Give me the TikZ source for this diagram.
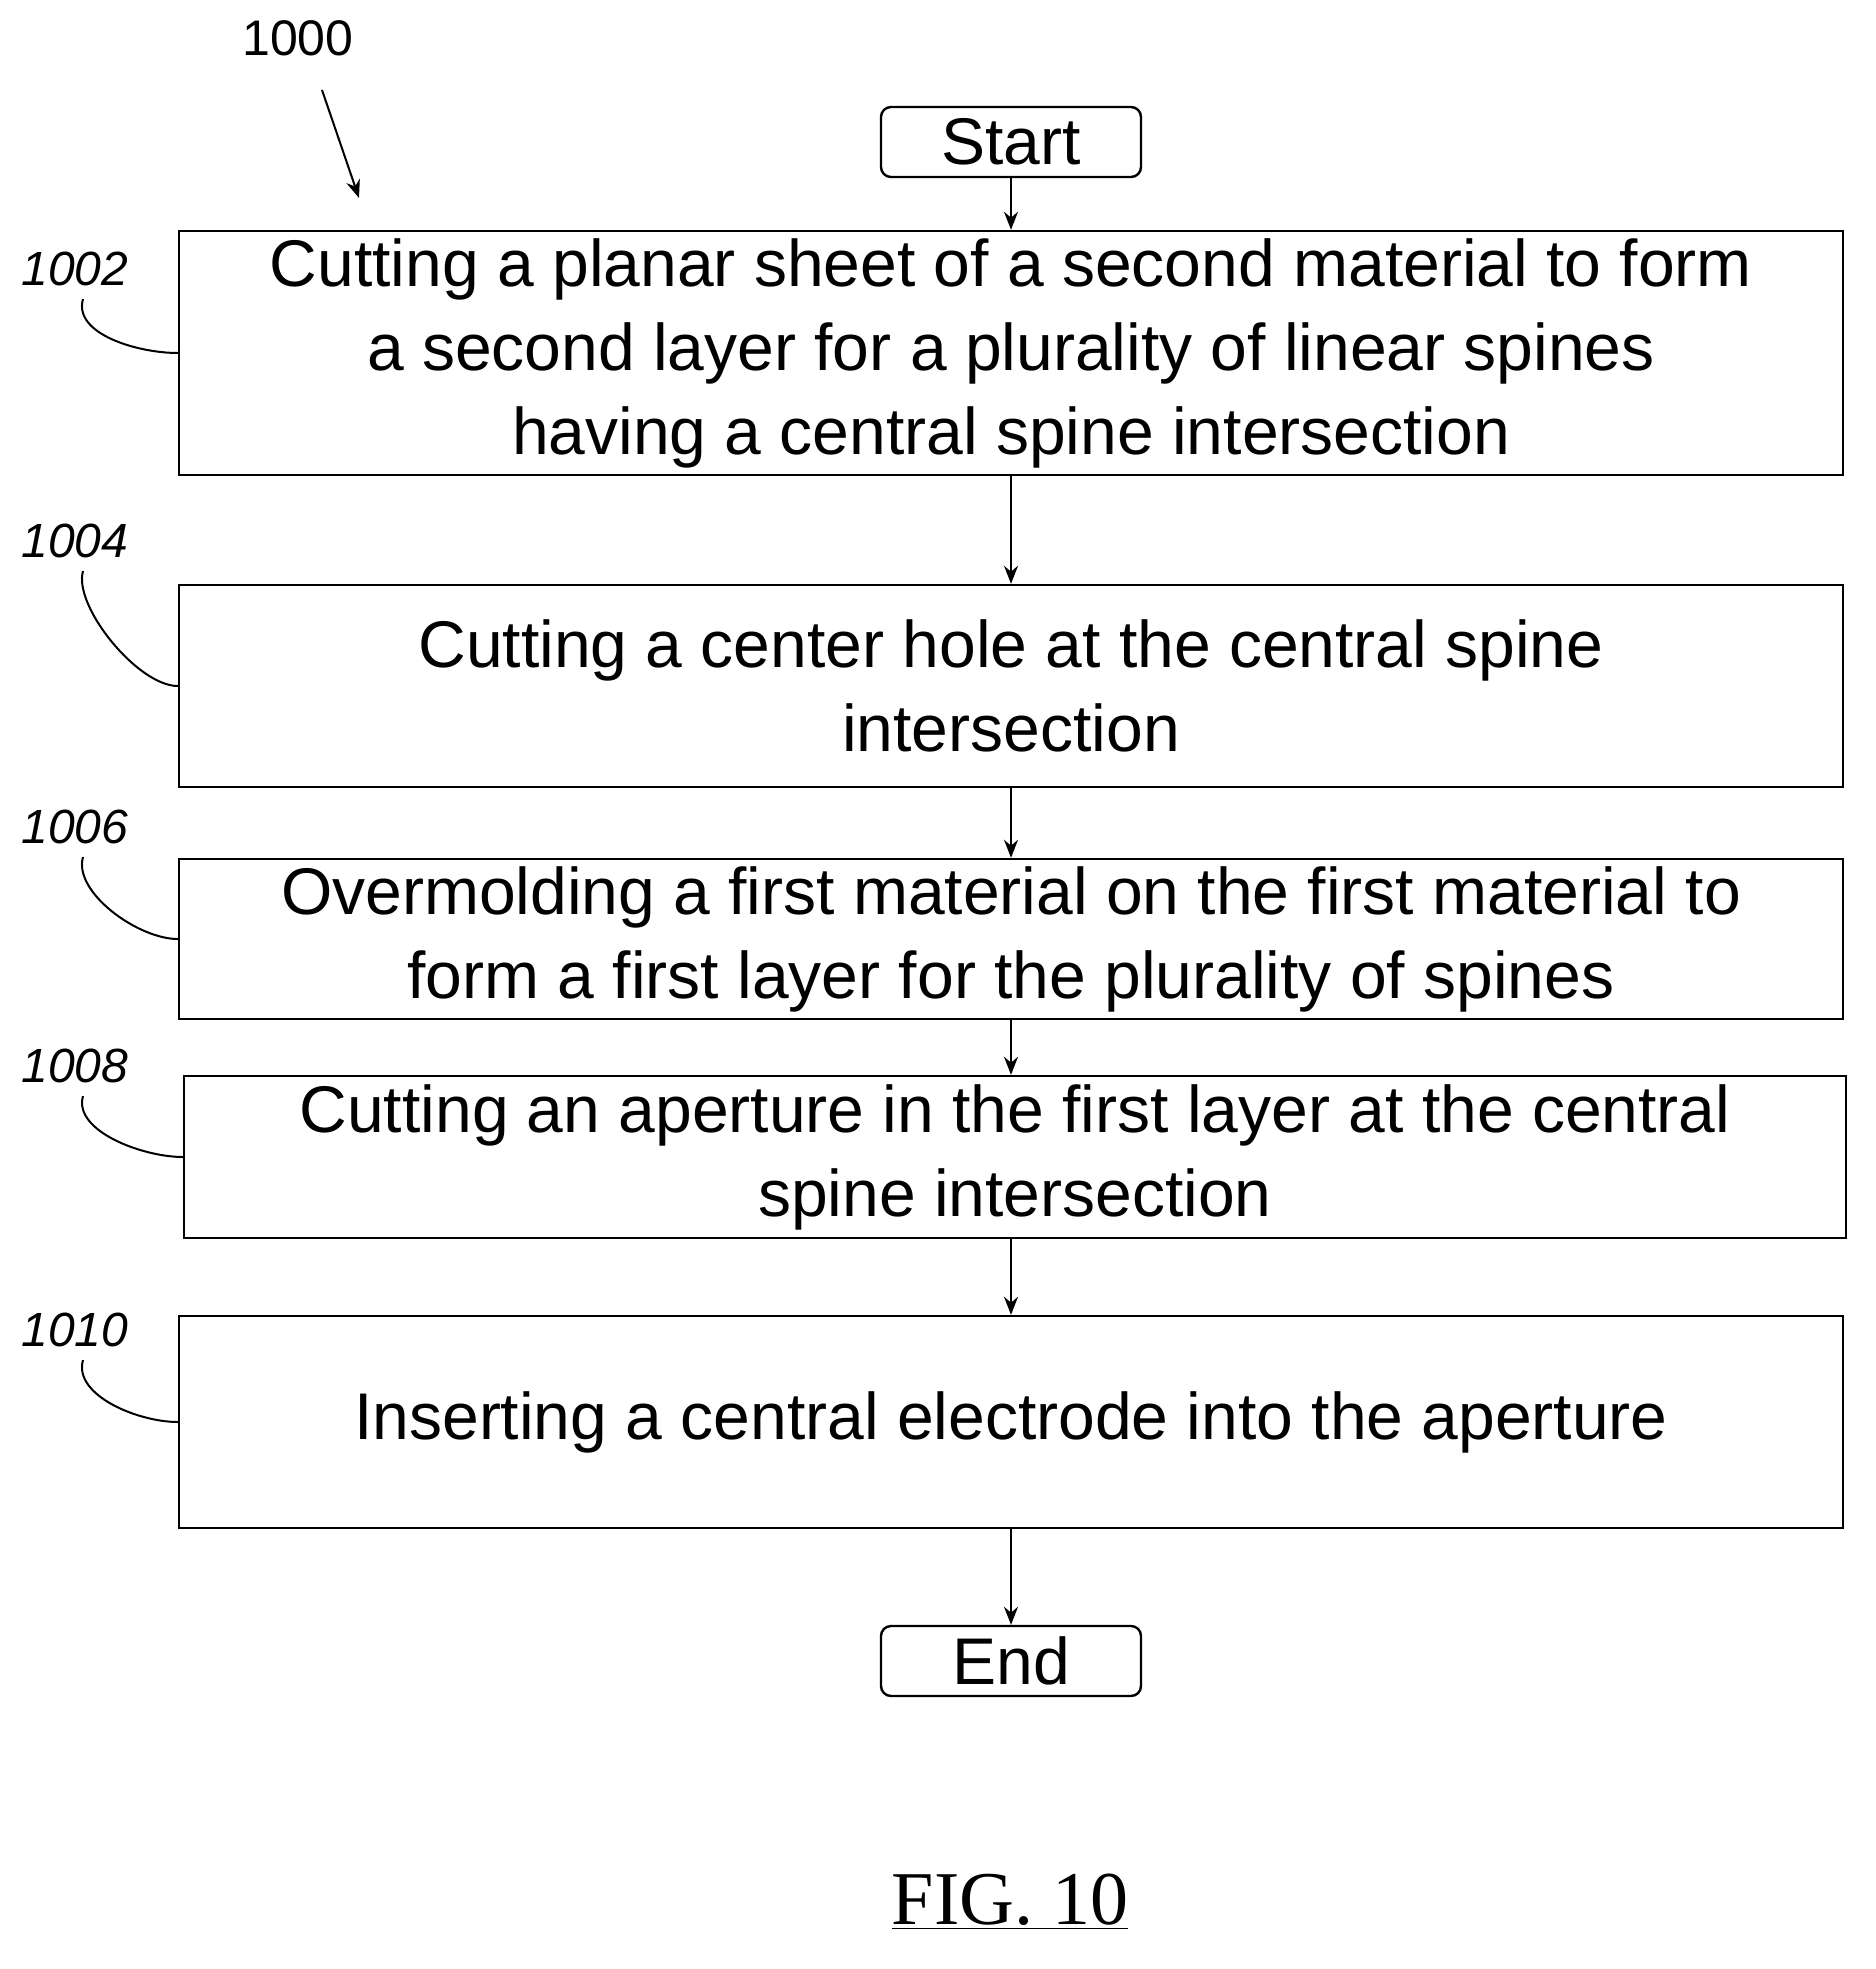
\documentclass[tikz,border=0pt]{standalone}
\usepackage{fontspec}
\setmainfont{Liberation Sans}
\newfontfamily\figfont{Liberation Serif}
\usetikzlibrary{arrows.meta, positioning, calc}

\begin{document}
\begin{tikzpicture}[
        x=0.5pt, y=-0.5pt,
        stepbox/.style={rectangle, draw, line width=1.2pt, inner sep=0pt, align=center,
            minimum width=832pt, font=\fontsize{33}{42}\selectfont},
        termbox/.style={rectangle, draw, rounded corners=5pt, line width=1.2pt, inner sep=0pt,
            minimum width=130pt, minimum height=35pt, font=\fontsize{33}{36}\selectfont},
        reflabel/.style={font=\fontsize{24}{26}\selectfont\itshape},
        arrow/.style={-{Stealth[length=9pt,width=7pt]}, line width=1pt},
        squiggle/.style={line width=1pt}
    ]
        \useasboundingbox (0,0) rectangle (1875,1969);
        % Terminals
        \node[termbox] (start) at (1011,142) {Start};
        \node[termbox] (end) at (1011,1661) {End};
        % Steps
        \node[stepbox, minimum height=122pt] (s1002) at (1011,353) {Cutting a planar sheet of a second material to form\\ a second layer for a plurality of linear spines\\ having a central spine intersection};
        \node[stepbox, minimum height=101pt] (s1004) at (1011,686) {Cutting a center hole at the central spine\\ intersection};
        \node[stepbox, minimum height=80pt] (s1006) at (1011,939) {Overmolding a first material on the first material to\\ form a first layer for the plurality of spines};
        \node[stepbox, minimum height=81pt, minimum width=831pt] (s1008) at (1015,1157) {Cutting an aperture in the first layer at the central\\ spine intersection};
        \node[stepbox, minimum height=106pt] (s1010) at (1011,1422) {Inserting a central electrode into the aperture};
        % Flow
        \draw[arrow] (start) -- (s1002);
        \draw[arrow] (s1002) -- (s1004);
        \draw[arrow] (s1004) -- (s1006);
        \draw[arrow] (s1006.south) -- (s1008.north -| s1006.south);
        \draw[arrow] (s1008.south -| s1006.south) -- (s1010);
        \draw[arrow] (s1010) -- (end);
        % Reference numerals
        \node[font=\fontsize{25}{27}\selectfont] (n1000) at (298,38) {1000};
        \coordinate (a1000) at (322,90);
        \coordinate (b1000) at (359,198);
        \draw[arrow] (a1000) -- (b1000);
        \foreach \n/\y in {1002/269, 1004/541, 1006/827, 1008/1066, 1010/1330} {
            \node[reflabel] (l\n) at (75,\y) {\n};
            \draw[squiggle] ($(l\n.south)+(8,6)$) .. controls +(-10,35) and +(-40,0) .. (s\n.west);
        }
        % Caption
        \node[font=\figfont\fontsize{38}{40}\selectfont] (fig) at (1010,1902) {\underline{FIG. 10}};
\end{tikzpicture}
\end{document}
